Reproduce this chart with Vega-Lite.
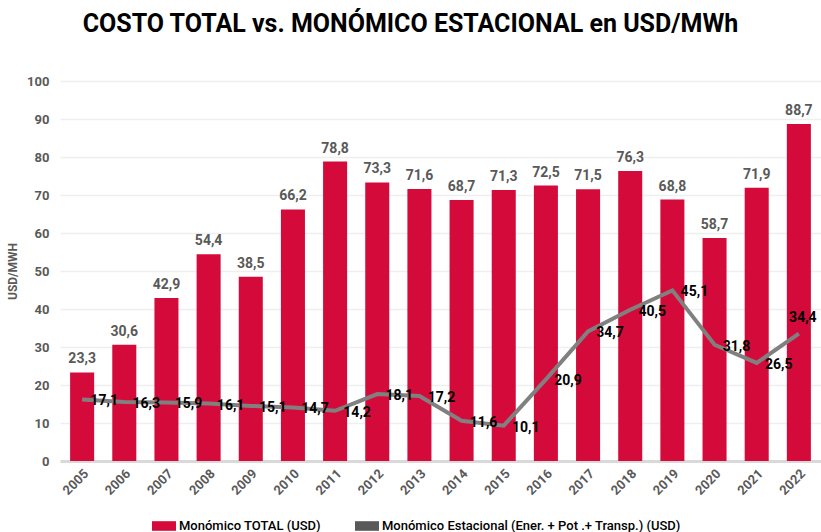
{
  "$schema": "https://vega.github.io/schema/vega-lite/v6.json",
  "width": 761,
  "height": 380,
  "autosize": {"type": "none"},
  "padding": {"left": 60, "top": 81, "right": 0, "bottom": 71},
  "background": "white",
  "config": {
    "font": "Roboto",
    "view": {"stroke": null}
  },
  "title": {
    "text": "COSTO TOTAL vs. MONÓMICO ESTACIONAL en USD/MWh",
    "fontSize": 25,
    "fontWeight": "bold",
    "color": "#000000",
    "anchor": "middle",
    "dx": -30,
    "offset": 38,
    "font": "Roboto"
  },
  "data": {
    "values": [
      {"year": "2005", "total": 23.3, "total_label": "23,3", "estacional": 16.2, "est_label": "17,1"},
      {"year": "2006", "total": 30.6, "total_label": "30,6", "estacional": 15.5, "est_label": "16,3"},
      {"year": "2007", "total": 42.9, "total_label": "42,9", "estacional": 15.4, "est_label": "15,9"},
      {"year": "2008", "total": 54.4, "total_label": "54,4", "estacional": 15.1, "est_label": "16,1"},
      {"year": "2009", "total": 48.5, "total_label": "38,5", "estacional": 14.5, "est_label": "15,1"},
      {"year": "2010", "total": 66.2, "total_label": "66,2", "estacional": 14.1, "est_label": "14,7"},
      {"year": "2011", "total": 78.8, "total_label": "78,8", "estacional": 13.2, "est_label": "14,2"},
      {"year": "2012", "total": 73.3, "total_label": "73,3", "estacional": 17.6, "est_label": "18,1"},
      {"year": "2013", "total": 71.6, "total_label": "71,6", "estacional": 17.1, "est_label": "17,2"},
      {"year": "2014", "total": 68.7, "total_label": "68,7", "estacional": 10.6, "est_label": "11,6"},
      {"year": "2015", "total": 71.3, "total_label": "71,3", "estacional": 9.3, "est_label": "10,1"},
      {"year": "2016", "total": 72.5, "total_label": "72,5", "estacional": 21.5, "est_label": "20,9"},
      {"year": "2017", "total": 71.5, "total_label": "71,5", "estacional": 34.1, "est_label": "34,7"},
      {"year": "2018", "total": 76.3, "total_label": "76,3", "estacional": 39.8, "est_label": "40,5"},
      {"year": "2019", "total": 68.8, "total_label": "68,8", "estacional": 44.9, "est_label": "45,1"},
      {"year": "2020", "total": 58.7, "total_label": "58,7", "estacional": 30.6, "est_label": "31,8"},
      {"year": "2021", "total": 71.9, "total_label": "71,9", "estacional": 25.8, "est_label": "26,5"},
      {"year": "2022", "total": 88.7, "total_label": "88,7", "estacional": 33.5, "est_label": "34,4"}
    ]
  },
  "resolve": {"axis": {"y": "independent"}},
  "encoding": {
    "x": {
      "field": "year",
      "type": "ordinal",
      "scale": {"paddingInner": 0.43, "paddingOuter": 0.24},
      "axis": {
        "title": null,
        "domain": true,
        "domainColor": "#d9d9d9",
        "domainWidth": 3,
        "ticks": false,
        "grid": false,
        "labelAngle": -45,
        "labelFont": "Roboto",
        "labelFontWeight": "bold",
        "labelFontSize": 13,
        "labelColor": "#595959",
        "labelPadding": 6
      }
    }
  },
  "layer": [
    {
      "mark": {"type": "bar"},
      "encoding": {
        "y": {
          "field": "total",
          "type": "quantitative",
          "scale": {"domain": [0, 100], "nice": false, "zero": true},
          "axis": {
            "title": "USD/MWH",
            "titleFont": "Roboto",
            "titleFontSize": 12,
            "titleFontWeight": "bold",
            "titleColor": "#595959",
            "titlePadding": 7,
            "tickCount": 20,
            "tickMinStep": 10,
            "labelOverlap": false,
            "domain": false,
            "ticks": false,
            "grid": true,
            "gridColor": "#efefef",
            "gridWidth": 1.5,
            "labelPadding": 11,
            "labelFont": "Roboto",
            "labelFontSize": 13,
            "labelFontWeight": "bold",
            "labelColor": "#595959"
          }
        },
        "color": {
          "datum": "Monómico TOTAL (USD)",
          "type": "nominal",
          "scale": {
            "domain": ["Monómico TOTAL (USD)", "Monómico Estacional (Ener. + Pot .+ Transp.) (USD)"],
            "range": ["#d40b3a", "#595959"]
          },
          "legend": {
            "title": null,
            "orient": "none",
            "legendX": 92,
            "legendY": 433,
            "direction": "horizontal",
            "symbolType": "M-1,-0.4H1V0.4H-1Z",
            "symbolSize": 576,
            "symbolStrokeWidth": 0,
            "symbolOpacity": 1,
            "labelFont": "Roboto",
            "labelFontWeight": 500,
            "labelFontSize": 13,
            "labelColor": "#000000",
            "labelOffset": 3,
            "columnPadding": 34,
            "labelLimit": 500
          }
        }
      }
    },
    {
      "mark": {"type": "text", "baseline": "alphabetic", "dy": -9, "font": "Roboto", "fontWeight": "bold", "fontSize": 14, "color": "#595959"},
      "encoding": {
        "y": {"field": "total", "type": "quantitative", "axis": null},
        "text": {"field": "total_label"}
      }
    },
    {
      "mark": {"type": "line", "color": "#808080", "strokeWidth": 4},
      "encoding": {
        "y": {"field": "estacional", "type": "quantitative", "axis": null}
      }
    },
    {
      "transform": [{"filter": "datum.year != '2022'"}],
      "mark": {"type": "text", "baseline": "middle", "align": "center", "dx": 22, "dy": 2, "font": "Roboto", "fontWeight": "bold", "fontSize": 14, "color": "#000000"},
      "encoding": {
        "y": {"field": "estacional", "type": "quantitative", "axis": null},
        "text": {"field": "est_label"}
      }
    },
    {
      "transform": [{"filter": "datum.year == '2022'"}],
      "mark": {"type": "text", "baseline": "middle", "align": "center", "dx": 4, "dy": -16, "font": "Roboto", "fontWeight": "bold", "fontSize": 14, "color": "#000000"},
      "encoding": {
        "y": {"field": "estacional", "type": "quantitative", "axis": null},
        "text": {"field": "est_label"}
      }
    }
  ]
}
